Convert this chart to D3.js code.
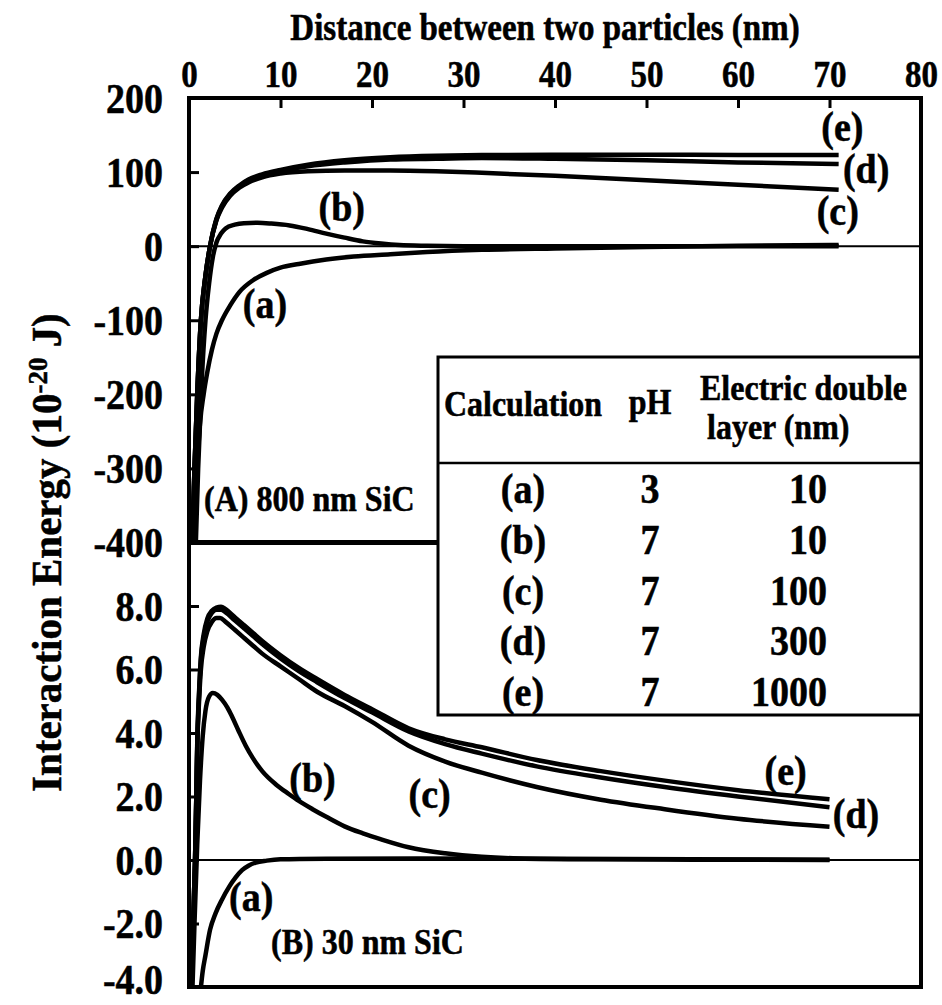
<!DOCTYPE html>
<html>
<head>
<meta charset="utf-8">
<script src="https://cdn.jsdelivr.net/npm/d3@7"></script>
<style>
  body { margin: 0; background: #fff; }
  text { font-family: "Liberation Serif", "Times New Roman", serif; font-weight: bold; fill: #000;
         stroke: #000; stroke-width: 0.5px; }
</style>
</head>
<body>
<div id="chart"></div>
<script>
// x ticks (nm)
var xTicks = [0, 10, 20, 30, 40, 50, 60, 70, 80];
var ticksA = [-400, -300, -200, -100, 0, 100, 200];
var ticksB = [-4, -2, 0, 2, 4, 6, 8];

// (A) 800 nm SiC : [distance nm, energy 1e-20 J]
var topA = [[0.6,-420],[0.9,-300],[1.2,-240],[1.6,-200],[2.0,-170],[2.5,-140],[3.0,-118],[3.6,-100],[4.5,-80],[5.5,-62],[7,-46],[8.5,-36],[10,-29],[12,-24],[15,-18],[18,-14],[22,-11],[26,-8],[32,-5],[40,-3],[50,-1],[60,0.5],[71,1.5]];
var topB = [[0.7,-420],[1.0,-300],[1.4,-180],[1.8,-100],[2.2,-50],[2.6,-15],[3.0,5],[3.5,17],[4,24],[5,29],[6,31],[7.5,31.5],[9,30.5],[11,28],[13,23],[15,17],[17,11.5],[19,6.5],[21,3.5],[23,1.5],[26,0.5],[30,0],[40,0],[50,0],[60,0],[71,0]];
var topC = [[0.3,-420],[0.6,-300],[0.9,-200],[1.3,-100],[1.8,-40],[2.3,0],[3.0,35],[3.6,52],[4.5,68],[5.5,79],[6.5,86],[8,93],[10,98],[13,101],[17,102],[22,102],[27,101],[32,99],[40,95],[50,89],[60,83],[71,76]];
var topD = [[0.3,-420],[0.6,-300],[0.9,-200],[1.3,-100],[1.8,-40],[2.3,0],[3.0,36],[3.6,54],[4.5,70],[5.5,81],[6.5,89],[8,96],[10,102],[13,108],[17,113],[22,117],[27,118],[32,119],[40,118],[50,116],[60,113],[71,111]];
var topE = [[0.3,-420],[0.6,-300],[0.9,-200],[1.3,-100],[1.8,-40],[2.3,0],[3.0,37],[3.6,55],[4.5,71],[5.5,82],[6.5,90],[8,97],[10,103],[13,110],[17,116],[22,120],[27,122],[32,123],[40,123.5],[50,123.5],[60,123],[71,123]];

// (B) 30 nm SiC
var botA = [[1.2,-4.3],[1.5,-3.5],[1.8,-3.0],[2.3,-2.2],[2.9,-1.68],[3.6,-1.25],[4.4,-0.84],[5.1,-0.55],[5.8,-0.32],[6.5,-0.18],[7.3,-0.08],[8.5,-0.02],[10,0.02],[15,0.04],[25,0.05],[40,0.04],[55,0.02],[70,0.01]];
var botB = [[0.35,-4.3],[0.6,-2],[0.9,0.5],[1.2,2.5],[1.5,3.9],[1.8,4.7],[2.2,5.15],[2.6,5.26],[3.1,5.2],[3.6,5.05],[4.2,4.8],[4.7,4.52],[5.4,4.08],[6.2,3.6],[7.0,3.2],[8,2.8],[9.5,2.38],[10.9,2.08],[12,1.86],[13.5,1.6],[15,1.36],[17,1.06],[19,0.84],[21,0.65],[24,0.4],[28,0.21],[32,0.1],[36,0.05],[45,0.02],[55,0.01],[70,0]];
var botC = [[0.25,-4.3],[0.45,-2],[0.66,0],[0.8,2],[0.9,3.5],[1.1,5.0],[1.3,6.0],[1.6,6.7],[2.0,7.2],[2.5,7.5],[3.0,7.62],[3.4,7.62],[4,7.5],[5,7.25],[6,7.0],[7,6.75],[8,6.5],[10,6.1],[12,5.7],[14,5.3],[17,4.85],[20,4.35],[24,3.6],[28,3.1],[32,2.75],[38,2.3],[45,1.9],[52,1.6],[60,1.3],[70,1.05]];
var botD = [[0.25,-4.3],[0.45,-2],[0.66,0],[0.8,2],[0.9,3.6],[1.1,5.2],[1.3,6.3],[1.6,7.0],[2.0,7.5],[2.5,7.78],[3.0,7.88],[3.5,7.88],[4,7.8],[5,7.55],[6,7.3],[7,7.05],[8,6.8],[10,6.35],[12,5.95],[14,5.6],[17,5.1],[20,4.65],[24,4.05],[28,3.65],[32,3.35],[38,2.95],[45,2.6],[52,2.3],[60,2.0],[70,1.66]];
var botE = [[0.25,-4.3],[0.45,-2],[0.66,0],[0.8,2],[0.9,3.7],[1.1,5.3],[1.3,6.4],[1.6,7.1],[2.0,7.6],[2.5,7.85],[3.0,7.95],[3.5,7.98],[4,7.9],[5,7.65],[6,7.4],[7,7.15],[8,6.9],[10,6.45],[12,6.05],[14,5.7],[17,5.2],[20,4.75],[24,4.15],[28,3.8],[32,3.55],[38,3.15],[45,2.8],[52,2.5],[60,2.2],[70,1.91]];

// inset table
var calcNames = ["(a)", "(b)", "(c)", "(d)", "(e)"];
var pHs = ["3", "7", "7", "7", "7"];
var edlNm = ["10", "10", "100", "300", "1000"];

var W = 942, H = 1005;
var L = 189, R = 921, T = 98, MID = 542.5, B = 987;
var SY = 1.12;   // glyphs in the figure are a bit tall

var svg = d3.select("#chart").append("svg")
            .attr("width", W).attr("height", H);
svg.append("rect").attr("width", W).attr("height", H).attr("fill", "#fff");

var x = d3.scaleLinear().domain([0, 80]).range([L, R]);
var yA = d3.scaleLinear().domain([-400, 200]).range([MID, T]);
var yB = d3.scaleLinear().domain([-4, 10]).range([B, MID]);

var defs = svg.append("defs");
defs.append("clipPath").attr("id", "clipA")
    .append("rect").attr("x", L).attr("y", T).attr("width", R - L).attr("height", MID - T);
defs.append("clipPath").attr("id", "clipB")
    .append("rect").attr("x", L).attr("y", MID).attr("width", R - L).attr("height", B - MID);

// text with a little vertical stretch
function label(parent, px, py, size, txt, anchor)
{
   return parent.append("text")
                .attr("transform", "translate(" + px + "," + py + ") scale(1," + SY + ")")
                .attr("text-anchor", anchor || "start")
                .style("font-size", size + "px")
                .text(txt);
}

function drawPanel(y, clip, series, labels)
{
   var g = svg.append("g").attr("clip-path", "url(#" + clip + ")");
   // zero line
   g.append("line")
    .attr("x1", L).attr("x2", R)
    .attr("y1", y(0)).attr("y2", y(0))
    .attr("stroke", "#000").attr("stroke-width", 2);

   var line = d3.line()
                .x(function (d) { return x(d[0]); })
                .y(function (d) { return y(d[1]); })
                .curve(d3.curveMonotoneX);
   g.selectAll("path.curve")
    .data(series)
    .enter()
    .append("path")
    .attr("class", "curve")
    .attr("d", line)
    .attr("fill", "none")
    .attr("stroke", "#000")
    .attr("stroke-width", 4.5)
    .attr("stroke-linejoin", "round");

   labels.forEach(function (d) {
       label(svg, x(d.d), y(d.v) + 13, 38, d.t, "middle");
   });
}

drawPanel(yA, "clipA", [topA, topB, topC, topD, topE],
          [{t: "(a)", d: 8.3, v: -79}, {t: "(b)", d: 16.7, v: 52},
           {t: "(c)", d: 70.9, v: 46}, {t: "(d)", d: 74, v: 103}, {t: "(e)", d: 71.4, v: 159}]);
drawPanel(yB, "clipB", [botA, botB, botC, botD, botE],
          [{t: "(a)", d: 6.8, v: -1.2}, {t: "(b)", d: 13.5, v: 2.55},
           {t: "(c)", d: 26.3, v: 2.05}, {t: "(d)", d: 72.9, v: 1.42}, {t: "(e)", d: 65.2, v: 2.78}]);

// axes
var xAxis = svg.append("g")
               .attr("transform", "translate(0," + T + ")")
               .call(d3.axisTop(x).tickValues(xTicks).tickSize(-10).tickPadding(10));
var yAxisA = svg.append("g")
                .attr("transform", "translate(" + L + ",0)")
                .call(d3.axisLeft(yA).tickValues(ticksA).tickSize(-10).tickPadding(26)
                        .tickFormat(function (d) { return String(d); }));
var yAxisB = svg.append("g")
                .attr("transform", "translate(" + L + ",0)")
                .call(d3.axisLeft(yB).tickValues(ticksB).tickSize(-10).tickPadding(26)
                        .tickFormat(function (d) { return d.toFixed(1); }));
[xAxis, yAxisA, yAxisB].forEach(function (a, i) {
    a.select(".domain").remove();
    a.selectAll(".tick line").attr("stroke", "#000").attr("stroke-width", 3);
    a.selectAll(".tick text")
     .attr("font-family", null)
     .attr("dy", i == 0 ? "0em" : "0.34em")
     .attr("transform", "scale(1," + SY + ")")
     .style("font-size", i == 0 ? "33px" : "38px");
});
// left labels sit centred on the tick; the bottom one is nudged up to stay inside
[yAxisA, yAxisB].forEach(function (a) {
    a.selectAll(".tick text").attr("y", function (d) { return d == -4 ? -7 : 0; });
});

// frame
svg.append("rect")
   .attr("x", L).attr("y", T).attr("width", R - L).attr("height", B - T)
   .attr("fill", "none").attr("stroke", "#000").attr("stroke-width", 4);

// inset table
var tb = {x0: 438, y0: 357, x1: R, y1: 715, head: 463};
svg.append("line")
   .attr("x1", L).attr("x2", tb.x0).attr("y1", MID).attr("y2", MID)
   .attr("stroke", "#000").attr("stroke-width", 5);
svg.append("rect")
   .attr("x", tb.x0).attr("y", tb.y0)
   .attr("width", tb.x1 - tb.x0).attr("height", tb.y1 - tb.y0)
   .attr("fill", "#fff").attr("stroke", "#000").attr("stroke-width", 3);
svg.append("line")
   .attr("x1", tb.x0).attr("x2", tb.x1).attr("y1", tb.head).attr("y2", tb.head)
   .attr("stroke", "#000").attr("stroke-width", 2.5);

label(svg, 523, 416, 32, "Calculation", "middle");
label(svg, 650, 414, 32, "pH", "middle");
label(svg, 700, 400, 32, "Electric double");
label(svg, 707, 439, 32, "layer (nm)");

calcNames.forEach(function (d, i) { label(svg, 523, 503 + i * 50.8, 38, d, "middle"); });
pHs.forEach(function (d, i) { label(svg, 650, 503 + i * 50.8, 38, d, "middle"); });
edlNm.forEach(function (d, i) { label(svg, 827, 503 + i * 50.8, 38, d, "end"); });

// panel names
label(svg, 204, 511, 32, "(A) 800 nm SiC");
label(svg, 271, 954, 32, "(B) 30 nm SiC");

// axis titles
label(svg, 545, 40, 33, "Distance between two particles (nm)", "middle");

var yt = svg.append("text")
            .attr("transform", "translate(61,792) rotate(-90) scale(1,1.04)")
            .style("font-size", "41px");
yt.append("tspan").text("Interaction Energy (10");
yt.append("tspan").attr("dy", "-0.5em").style("font-size", "27px").text("-20");
yt.append("tspan").attr("dy", "0.32em").text(" J)");
</script>
</body>
</html>
